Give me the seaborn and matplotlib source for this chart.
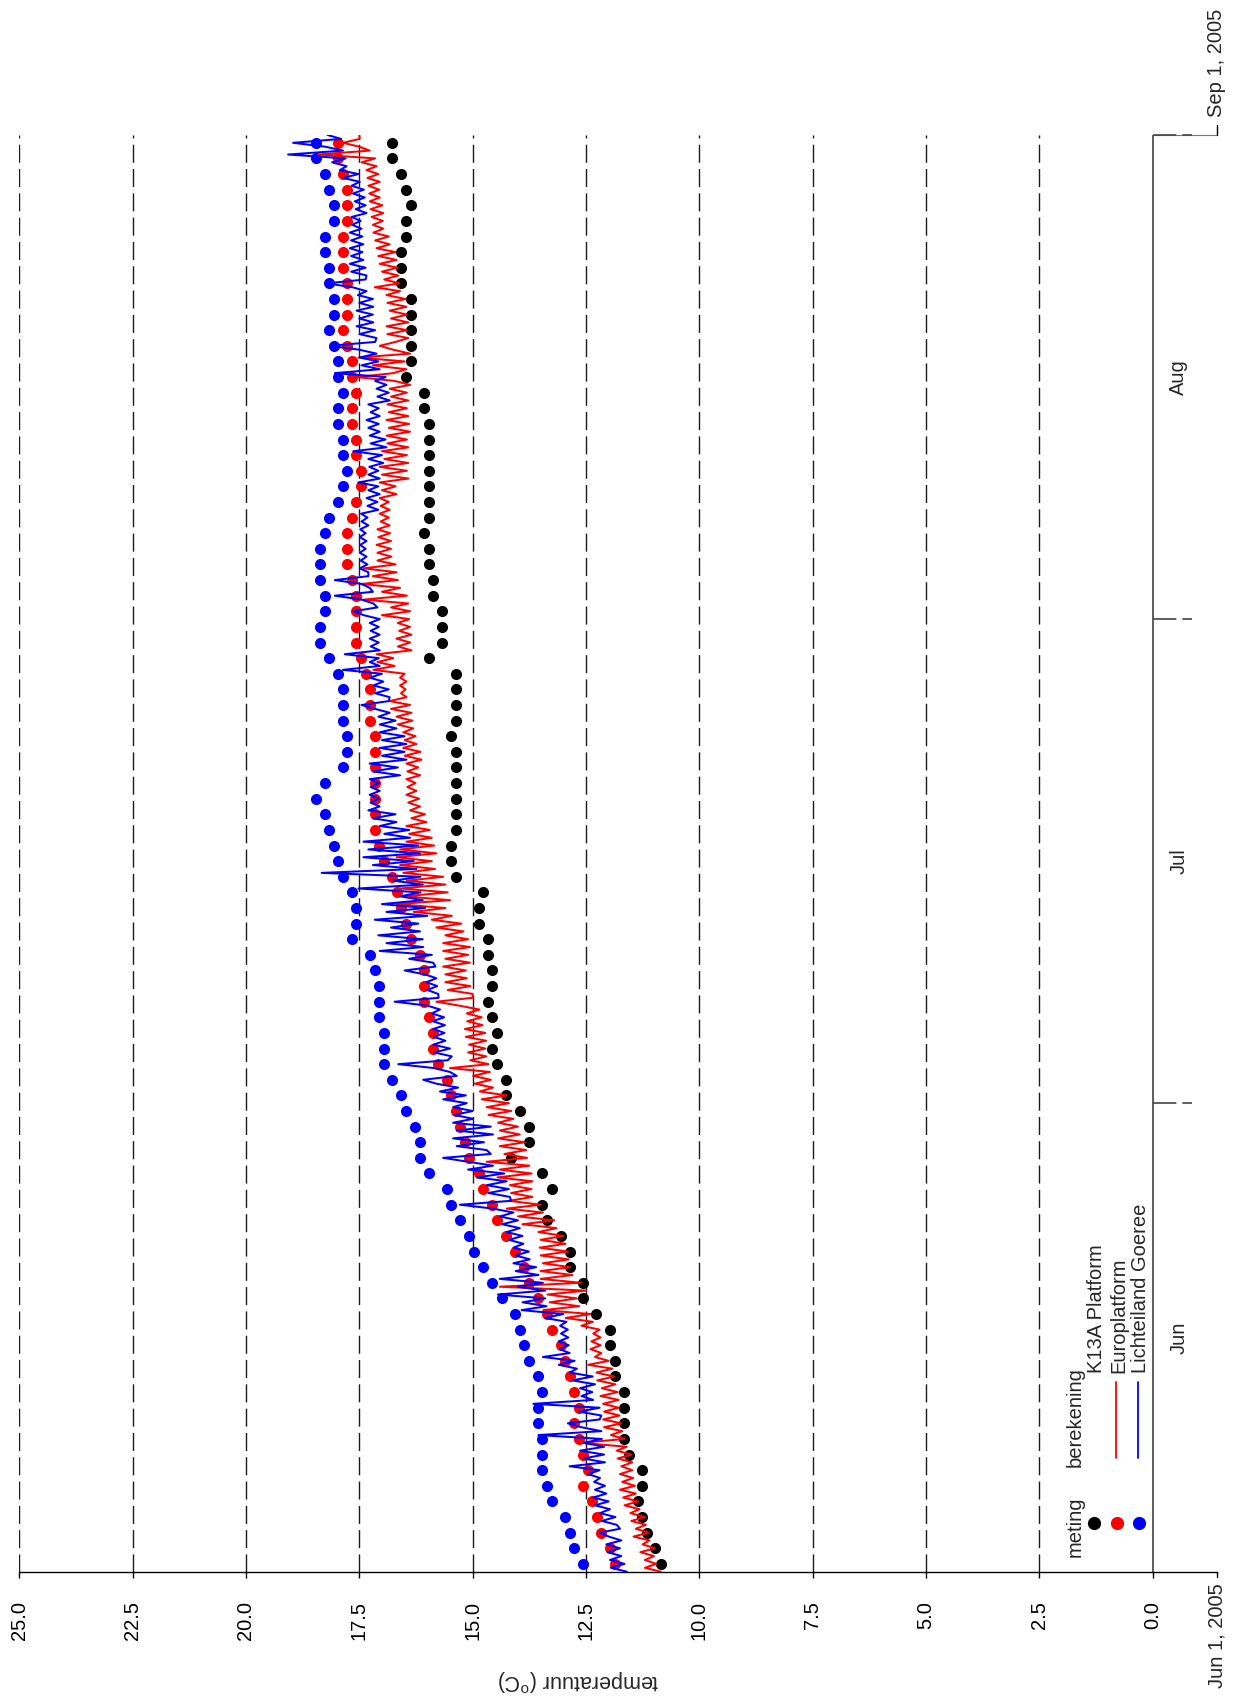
import numpy as np
import pandas as pd
import matplotlib
matplotlib.use("Agg")
import matplotlib.pyplot as plt
import matplotlib.dates as mdates
from matplotlib.lines import Line2D
import seaborn as sns

# ---------------- data ----------------
# daily measurements ("meting"), Jun 1 .. Aug 31 2005 (one value per day, at noon)
k13a_meting = [
    10.85, 10.97, 11.16, 11.26, 11.36, 11.26, 11.26, 11.56, 11.66, 11.66, 11.66, 11.66, 11.86, 11.86, 11.97, 11.97,
    12.27, 12.56, 12.56, 12.85, 12.85, 13.06, 13.35, 13.46, 13.26, 13.46, 14.16, 13.76, 13.76, 13.96, 14.27,
    14.27, 14.47, 14.57, 14.47, 14.57, 14.66, 14.57, 14.57, 14.66, 14.66, 14.86, 14.86, 14.77, 15.37, 15.47,
    15.47, 15.37, 15.37, 15.37, 15.37, 15.37, 15.37, 15.47, 15.37, 15.37, 15.37, 15.37, 15.97, 15.67, 15.67,
    15.67, 15.87, 15.87, 15.97, 15.97, 16.07, 15.97, 15.97, 15.97, 15.97, 15.97, 15.97, 15.97, 16.07, 16.07, 16.47,
    16.37, 16.37, 16.37, 16.37, 16.37, 16.57, 16.57, 16.57, 16.47, 16.47, 16.37, 16.47, 16.57, 16.77, 16.77,
]
euro_meting = [
    11.86, 11.97, 12.16, 12.26, 12.36, 12.56, 12.46, 12.56, 12.66, 12.76, 12.66, 12.76, 12.85, 12.96, 13.06, 13.26,
    13.36, 13.56, 13.76, 13.86, 14.07, 14.27, 14.47, 14.57, 14.77, 14.87, 15.07, 15.17, 15.27, 15.37, 15.47,
    15.57, 15.77, 15.87, 15.87, 15.97, 16.07, 16.07, 16.07, 16.17, 16.37, 16.47, 16.57, 16.67, 16.77, 16.96,
    17.07, 17.16, 17.16, 17.16, 17.16, 17.16, 17.16, 17.16, 17.27, 17.27, 17.27, 17.36, 17.47, 17.57, 17.57,
    17.57, 17.57, 17.67, 17.77, 17.77, 17.77, 17.67, 17.57, 17.47, 17.47, 17.57, 17.57, 17.67, 17.67, 17.57, 17.67,
    17.67, 17.77, 17.87, 17.77, 17.77, 17.77, 17.87, 17.87, 17.87, 17.77, 17.77, 17.77, 17.87, 17.97, 17.97,
]
goeree_meting = [
    12.56, 12.76, 12.85, 12.96, 13.26, 13.36, 13.46, 13.46, 13.46, 13.56, 13.56, 13.46, 13.56, 13.76, 13.86, 13.96,
    14.07, 14.36, 14.57, 14.77, 14.97, 15.07, 15.27, 15.47, 15.57, 15.97, 16.16, 16.16, 16.27, 16.47, 16.57,
    16.77, 16.96, 16.96, 16.96, 17.07, 17.07, 17.07, 17.16, 17.27, 17.67, 17.57, 17.57, 17.67, 17.87, 17.97,
    18.06, 18.16, 18.26, 18.46, 18.26, 17.87, 17.77, 17.77, 17.87, 17.87, 17.87, 17.97, 18.16, 18.36, 18.36,
    18.26, 18.26, 18.36, 18.36, 18.36, 18.26, 18.16, 17.97, 17.87, 17.77, 17.87, 17.87, 17.97, 17.97, 17.87, 17.97,
    17.97, 18.06, 18.16, 18.06, 18.06, 18.16, 18.16, 18.26, 18.26, 18.06, 18.06, 18.16, 18.26, 18.46, 18.46,
]

# model results ("berekening"), every 6 hours from Jun 1 00:00 to Sep 1 00:00
euro_berekening = [
    10.85, 11.20, 10.95, 11.20,  11.00, 11.30, 10.98, 11.25,  11.10, 11.45, 11.12, 11.40,
    11.18, 11.50, 11.20, 11.52,  11.32, 11.65, 11.35, 11.68,  11.40, 11.75, 11.42, 11.70,
    11.46, 11.75, 11.48, 11.72,  11.48, 11.80, 11.50, 11.82,  11.60, 12.60, 11.65, 11.95,
    11.70, 12.10, 11.72, 12.12,  11.76, 12.10, 11.78, 12.12,  11.78, 12.18, 11.80, 12.15,
    11.85, 12.25, 11.88, 12.27,  11.92, 12.45, 12.00, 12.30,  12.16, 12.40, 12.18, 12.38,
    12.18, 12.34, 12.20, 12.60,  12.35, 12.95, 12.40, 13.44,  12.65, 13.30, 12.70, 13.35,
    12.50, 14.40, 12.60, 13.50,  12.80, 13.50, 12.85, 13.45,  12.88, 13.50, 12.90, 13.52,
    12.95, 13.50, 13.00, 13.55,  13.15, 13.90, 13.20, 14.00,  13.45, 14.25, 13.50, 14.20,
    13.68, 14.15, 13.70, 14.18,  13.68, 14.45, 13.70, 14.40,  13.75, 14.69, 13.80, 14.30,
    13.82, 14.40, 13.85, 14.44,  13.96, 14.40, 14.00, 14.44,  14.10, 14.65, 14.15, 14.69,
    14.20, 14.80, 14.25, 14.84,  14.55, 14.95, 14.60, 14.99,  14.62, 15.50, 14.65, 15.05,
    14.70, 15.10, 14.72, 15.08,  14.70, 15.15, 14.72, 15.17,  14.78, 15.12, 14.80, 15.13,
    14.85, 15.30, 15.80, 15.00,  15.00, 15.55, 15.05, 15.60,  15.13, 15.60, 15.15, 15.65,
    15.06, 15.60, 15.10, 15.65,  15.06, 15.65, 15.10, 15.60,  15.20, 15.80, 15.25, 15.90,
    15.46, 16.30, 15.60, 16.68,  15.50, 16.50, 15.55, 16.60,  15.60, 16.45, 15.65, 16.53,
    15.83, 16.60, 15.90, 16.68,  15.80, 16.60, 15.85, 16.46,  15.90, 16.40, 15.95, 16.46,
    16.02, 16.35, 16.05, 16.38,  16.16, 16.42, 16.18, 16.46,  16.24, 16.44, 16.26, 16.46,
    16.16, 16.44, 16.20, 16.46,  16.13, 16.50, 16.15, 16.53,  16.24, 16.50, 16.26, 16.53,
    16.31, 16.65, 16.33, 16.68,  16.35, 16.80, 16.38, 16.83,  16.46, 16.58, 16.48, 16.60,
    16.46, 16.60, 16.50, 17.19,  16.72, 17.10, 16.75, 17.12,  16.35, 16.65, 16.38, 16.68,
    16.35, 16.62, 16.38, 16.65,  16.40, 17.00, 16.38, 16.80,  16.42, 17.40, 16.45, 17.00,
    16.60, 17.45, 16.65, 17.20,  16.68, 17.40, 16.70, 17.10,  16.79, 17.10, 16.80, 17.12,
    16.80, 17.08, 16.82, 17.10,  16.83, 17.03, 16.85, 17.05,  16.83, 17.03, 16.85, 17.05,
    16.68, 17.00, 16.70, 17.05,  16.42, 17.00, 16.45, 17.05,  16.42, 16.95, 16.45, 17.00,
    16.42, 16.88, 16.45, 16.90,  16.38, 16.85, 16.40, 16.90,  16.42, 16.85, 16.45, 16.88,
    16.42, 16.80, 16.45, 16.83,  16.38, 16.72, 17.56, 16.75,  16.46, 17.20, 16.50, 17.52,
    16.38, 16.75, 17.05, 16.70,  16.42, 16.88, 16.45, 16.90,  16.42, 16.80, 16.45, 16.83,
    16.46, 16.88, 16.48, 16.90,  16.60, 17.16, 16.62, 16.95,  16.64, 17.00, 16.66, 17.05,
    16.68, 17.08, 16.70, 17.12,  16.83, 17.15, 16.85, 17.19,  16.97, 17.20, 16.98, 17.23,
    16.97, 17.25, 16.99, 17.27,  17.05, 17.28, 17.06, 17.30,  17.05, 17.32, 17.08, 17.34,
    17.12, 17.45, 17.15, 18.41,  17.27, 17.50, 17.86, 17.49,
    17.50,
]
goeree_berekening = [
    11.60, 11.95, 11.65, 11.97,  11.72, 12.02, 11.75, 12.05,  11.72, 12.00, 12.20, 11.75,
    11.82, 12.15, 11.85, 12.19,  11.97, 12.30, 12.00, 12.34,  12.05, 12.30, 12.08, 12.32,
    12.19, 12.45, 12.20, 12.86,  12.08, 12.55, 12.10, 12.63,  12.10, 12.55, 12.15, 13.55,
    12.16, 12.60, 12.90, 12.20,  12.16, 12.65, 12.20, 13.66,  12.34, 12.60, 12.36, 12.63,
    12.30, 12.80, 12.35, 12.86,  12.70, 13.10, 12.75, 13.45,  12.86, 13.08, 12.88, 13.10,
    12.89, 13.05, 12.90, 13.07,  12.93, 13.40, 13.00, 13.92,  13.37, 13.90, 13.40, 14.44,
    13.40, 14.00, 13.45, 14.40,  13.55, 14.05, 13.60, 14.10,  13.74, 14.05, 13.76, 14.10,
    13.88, 14.20, 13.90, 14.25,  13.96, 14.35, 14.00, 14.40,  14.10, 14.55, 15.28, 14.15,
    14.18, 14.65, 14.20, 14.69,  14.25, 14.90, 14.30, 15.10,  14.55, 15.10, 15.65, 14.60,
    14.69, 15.35, 14.75, 15.43,  14.55, 15.35, 14.60, 15.43,  14.99, 15.40, 15.00, 15.43,
    15.13, 15.65, 15.15, 15.72,  15.32, 15.80, 16.09, 15.35,  15.50, 15.85, 16.64, 15.55,
    15.46, 15.85, 15.50, 15.87,  15.60, 15.85, 15.62, 15.87,  15.61, 15.88, 15.63, 15.90,
    15.72, 16.00, 16.72, 15.75,  15.76, 16.00, 15.78, 16.02,  15.80, 16.05, 16.50, 15.82,
    15.87, 16.40, 15.90, 17.05,  16.09, 16.90, 16.10, 17.08,  16.16, 16.80, 16.20, 17.16,
    16.00, 16.90, 16.05, 17.00,  16.10, 16.60, 16.15, 17.52,  16.10, 16.75, 16.15, 18.33,
    16.24, 17.20, 16.30, 17.41,  16.16, 17.30, 16.20, 17.41,  16.38, 16.95, 16.40, 17.05,
    16.68, 17.20, 16.70, 17.30,  17.05, 17.25, 17.07, 17.27,  17.05, 17.25, 17.07, 17.27,
    16.60, 17.20, 16.65, 17.27,  16.46, 17.00, 16.50, 17.05,  16.46, 17.00, 16.50, 17.05,
    16.68, 17.05, 16.70, 17.08,  16.83, 17.15, 17.45, 16.85,  16.83, 17.15, 16.85, 17.19,
    16.97, 17.27, 17.00, 17.86,  17.05, 17.27, 17.07, 17.82,  17.05, 17.25, 17.07, 17.27,
    17.05, 17.25, 17.07, 17.27,  17.05, 17.40, 17.63, 17.10,  17.19, 17.45, 18.04, 17.20,
    17.27, 17.45, 18.04, 17.30,  17.30, 17.49, 17.32, 17.47,  17.34, 17.49, 17.36, 17.48,
    17.34, 17.49, 17.36, 17.48,  17.30, 17.45, 17.32, 17.46,  17.08, 17.32, 17.10, 17.34,
    17.05, 17.30, 17.08, 17.52,  17.05, 17.30, 17.08, 17.28,  16.97, 17.30, 17.00, 17.63,
    16.90, 17.25, 16.92, 17.27,  17.05, 17.30, 17.07, 17.34,  17.05, 17.25, 17.07, 17.30,
    16.83, 17.10, 16.85, 17.12,  16.90, 17.15, 16.92, 18.04,  17.05, 17.45, 17.08, 17.49,
    17.12, 17.50, 18.15, 17.15,  17.12, 17.50, 17.15, 17.56,  17.19, 17.50, 17.20, 17.56,
    17.19, 17.50, 17.20, 17.53,  17.34, 17.65, 18.22, 17.36,  17.34, 17.68, 17.36, 17.71,
    17.41, 17.68, 17.43, 17.71,  17.41, 17.68, 17.43, 17.71,  17.45, 17.66, 17.47, 17.67,
    17.34, 17.58, 17.36, 17.60,  17.38, 17.64, 17.40, 17.67,  17.49, 17.85, 17.52, 17.93,
    17.78, 18.10, 17.80, 19.07,  17.86, 18.25, 18.96, 17.90,
    18.20,
]

temp_ticks = [0.0, 2.5, 5.0, 7.5, 10.0, 12.5, 15.0, 17.5, 20.0, 22.5, 25.0]
temp_tick_labels = ["0.0", "2.5", "5.0", "7.5", "10.0", "12.5", "15.0", "17.5", "20.0", "22.5", "25.0"]
month_labels = ["Jun", "Jul", "Aug"]
month_starts = ["2005-06-01", "2005-07-01", "2005-08-01", "2005-09-01"]
station_names = ["K13A Platform", "Europlatform", "Lichteiland Goeree"]
station_colors = ["black", "#ff0000", "#0000ff"]

# ---------------- figure ----------------
sns.set_theme(style="white")
plt.rcParams["font.family"] = ["Liberation Sans", "DejaVu Sans"]
plt.rcParams["mathtext.fontset"] = "custom"
plt.rcParams["mathtext.rm"] = "Liberation Sans"
FS = 14.5

W, H = 1243, 1698
fig = plt.figure(figsize=(W / 100, H / 100), dpi=100)
AX_L, AX_R, AX_T, AX_B = 19.3, 1217.0, 135.0, 1571.7
AX_HPX = AX_B - AX_T
ax = fig.add_axes([AX_L / W, 1 - AX_B / H, (AX_R - AX_L) / W, AX_HPX / H])

day_times = pd.date_range("2005-06-01 12:00", periods=len(k13a_meting), freq="D")
calc_times = pd.date_range("2005-06-01 00:00", periods=len(euro_berekening), freq="6h")

X_END = -1.42  # far end of the (rotated) temperature axis
ax.set_xlim(25, X_END)

# grid (dashed) and solid zero line
for v in temp_ticks[1:]:
    ax.axvline(v, color="#1a1a1a", lw=1.0, ls=(0, (13, 4.5)), zorder=1)
ax.axvline(0, color="#333333", lw=1.1, zorder=2)

# measurements
for vals, col in zip([k13a_meting, euro_meting, goeree_meting], station_colors):
    sns.scatterplot(x=vals, y=day_times, color=col, s=64, linewidth=0, ax=ax, zorder=3)

# model lines
for vals, col in zip([euro_berekening, goeree_berekening], station_colors[1:]):
    sns.lineplot(x=vals, y=calc_times, orient="y", sort=False, estimator=None,
                 color=col, lw=1.45, ax=ax, zorder=4)

ymin = mdates.date2num(pd.Timestamp(month_starts[0]))
ymax = mdates.date2num(pd.Timestamp(month_starts[-1]))
ax.set_ylim(ymin, ymax)

for s in ["top", "left", "right"]:
    ax.spines[s].set_visible(False)
ax.spines["bottom"].set_color("black")
ax.spines["bottom"].set_linewidth(1.0)

ax.set_xticks(temp_ticks)
ax.set_xticklabels(temp_tick_labels, rotation=90, fontsize=FS)
ax.tick_params(axis="x", bottom=True, direction="out", length=4, width=1,
               pad=17, colors="black")
ax.set_yticks([])
ax.set_xlabel("")
ax.set_ylabel("")

# rotated date axis (drawn on the right)
trans = ax.get_xaxis_transform()
ax.plot([X_END, X_END], [0, -5 / AX_HPX], transform=trans, color="black", lw=1, clip_on=False)
ax.text(X_END, -11.5 / AX_HPX, "Jun 1, 2005", transform=trans, rotation=90,
        ha="center", va="top", fontsize=FS)
ax.plot([0, X_END], [1, 1], transform=trans, color="#777777", lw=0.8, clip_on=False)
ax.plot([X_END, X_END], [1, 1 + 10 / AX_HPX], transform=trans, color="black", lw=1, clip_on=False)
ax.text(X_END, 1 + 18 / AX_HPX, "Sep 1, 2005", transform=trans, rotation=90,
        ha="center", va="bottom", fontsize=FS)
for ms in month_starts[1:]:
    yb = mdates.date2num(pd.Timestamp(ms))
    ax.plot([0, -0.87], [yb, yb], color="#444444", lw=1.2, ls=(0, (14, 3.6)), clip_on=False)
for i, lab in enumerate(month_labels):
    y0 = mdates.date2num(pd.Timestamp(month_starts[i]))
    y1 = mdates.date2num(pd.Timestamp(month_starts[i + 1]))
    ax.text(-0.58, (y0 + y1) / 2, lab, rotation=90, ha="center", va="center", fontsize=FS)

# axis label (upside down after rotation)
fig.text(578 / W, 1 - 1680 / H, r"temperatuur ($^{\mathrm{o}}$C)", rotation=180,
         ha="center", va="center", fontsize=15.5)

# legend (rotated)
def fx(px):
    return px / W

def fy(py):
    return 1 - py / H

fig.text(fx(1075), fy(1557), "meting", rotation=90, ha="center", va="bottom", fontsize=FS)
fig.text(fx(1075), fy(1467), "berekening", rotation=90, ha="center", va="bottom", fontsize=FS)
row_x = [1095, 1118, 1140]
for name, col, xr, has_line in zip(station_names, station_colors, row_x, [False, True, True]):
    fig.text(fx(xr + 1), fy(1373), name, rotation=90, ha="center", va="bottom", fontsize=FS)
    fig.add_artist(Line2D([fx(xr - 1)], [fy(1523)], marker="o", ms=8.5, color=col,
                          mec=col, transform=fig.transFigure))
    if has_line:
        fig.add_artist(Line2D([fx(xr - 2), fx(xr - 2)], [fy(1382), fy(1458)], color=col,
                              lw=1.3, transform=fig.transFigure))

fig.savefig("out.png", dpi=100)
